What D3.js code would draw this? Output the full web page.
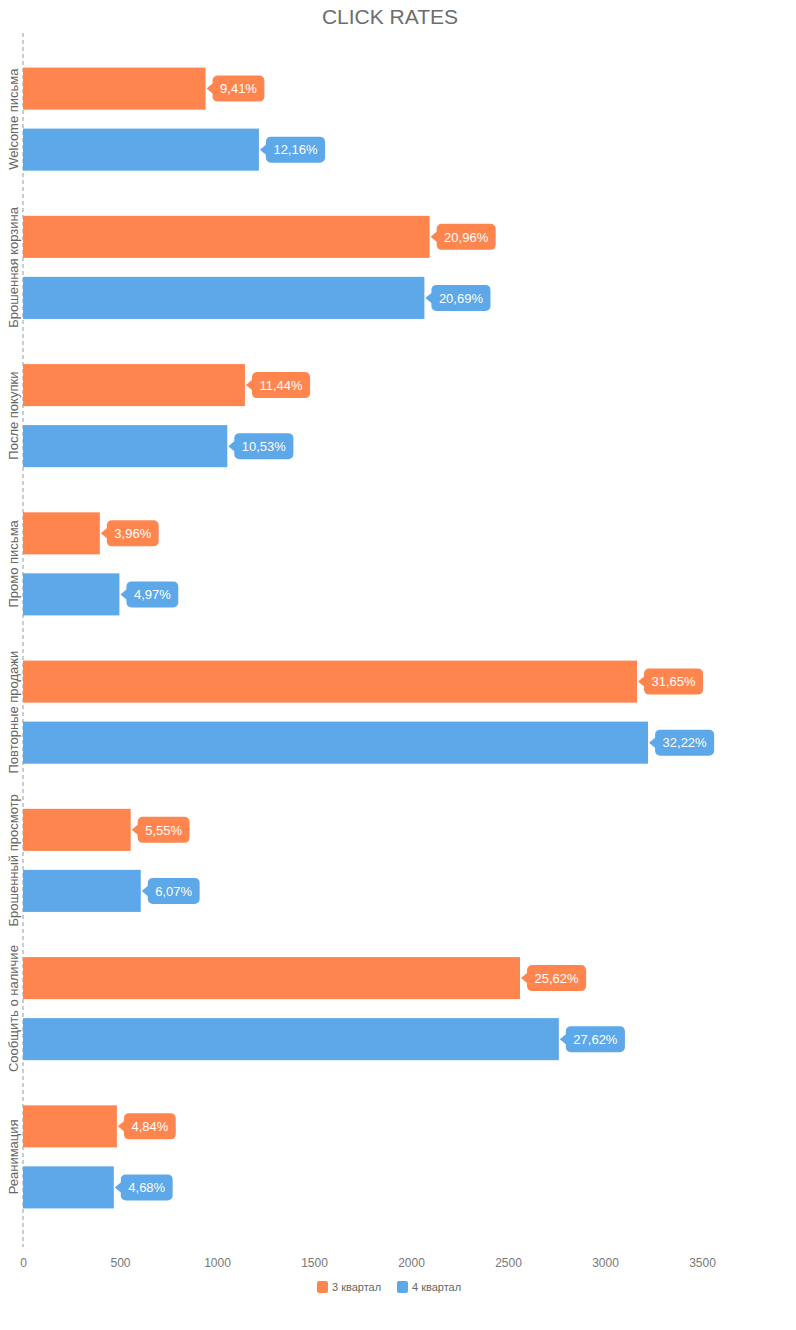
<!DOCTYPE html>
<html>
<head>
<meta charset="utf-8">
<script src="https://cdn.jsdelivr.net/npm/d3@7"></script>
<style>
  html, body { margin: 0; padding: 0; background: #fff; }
  svg { display: block; font-family: "Liberation Sans", Arial, Helvetica, sans-serif; }
</style>
</head>
<body>
<svg id="chart" width="796" height="1330"></svg>
<script>
// Email campaign click rates by quarter
const categories = [
  "Welcome письма",
  "Брошенная корзина",
  "После покупки",
  "Промо письма",
  "Повторные продажи",
  "Брошенный просмотр",
  "Сообщить о наличие",
  "Реанимация"
];
const seriesNames = ["3 квартал", "4 квартал"];
const q3Rates = [9.41, 20.96, 11.44, 3.96, 31.65, 5.55, 25.62, 4.84];
const q4Rates = [12.16, 20.69, 10.53, 4.97, 32.22, 6.07, 27.62, 4.68];
const xTicks = [0, 500, 1000, 1500, 2000, 2500, 3000, 3500];
const colors = ["#FF854F", "#5DA8E9"];

const series = [q3Rates, q4Rates];
const rows = categories.map((c, i) => ({
  category: c,
  values: series.map((s, k) => ({ key: seriesNames[k], k, rate: s[i] }))
}));

const svg = d3.select("#chart");

// Axis values are the rate expressed in basis points (rate * 100)
const x = d3.scaleLinear().domain([0, 3500]).range([23, 702]);
const y = d3.scaleBand().domain(categories).range([45, 1231]);
const inner = d3.scaleBand().domain(seriesNames).range([0, y.bandwidth()]).paddingInner(0.311).paddingOuter(0.37);

// Title
svg.append("text")
  .attr("x", 390).attr("y", 24)
  .attr("text-anchor", "middle")
  .attr("font-size", 21)
  .attr("fill", "#6d6d6d")
  .text("CLICK RATES");

// Dashed category axis line
svg.append("line")
  .attr("x1", x(0)).attr("x2", x(0))
  .attr("y1", 33).attr("y2", 1247)
  .attr("stroke", "#999").attr("stroke-width", 1)
  .attr("stroke-dasharray", "4,3");

// Category labels (rotated)
svg.append("g").selectAll("text")
  .data(categories)
  .join("text")
  .attr("transform", d => `translate(18,${y(d) + y.bandwidth() / 2}) rotate(-90)`)
  .attr("text-anchor", "middle")
  .attr("font-size", 13)
  .attr("fill", "#666")
  .text(d => d);

// Value axis tick labels
const xAxis = d3.axisBottom(x).tickValues(xTicks).tickSize(0).tickPadding(0).tickFormat(d3.format("d"));
const gx = svg.append("g").attr("transform", "translate(0,1258)").call(xAxis);
gx.select(".domain").remove();
gx.selectAll("text")
  .attr("font-size", 12)
  .attr("fill", "#777")
  .attr("font-family", "Liberation Sans, Arial, sans-serif");

// Bars
const groups = svg.append("g").selectAll("g")
  .data(rows)
  .join("g")
  .attr("transform", d => `translate(0,${y(d.category)})`);

groups.selectAll("rect")
  .data(d => d.values)
  .join("rect")
  .attr("x", x(0))
  .attr("y", d => inner(d.key))
  .attr("width", d => x(d.rate * 100) - x(0))
  .attr("height", inner.bandwidth())
  .attr("fill", d => colors[d.k]);

// Value callouts with pointer
const fmt = v => d3.format(".2f")(v).replace(".", ",") + "%";
const callouts = groups.selectAll("g.callout")
  .data(d => d.values)
  .join("g")
  .attr("class", "callout")
  .attr("transform", d => `translate(${x(d.rate * 100) + 1},${inner(d.key) + inner.bandwidth() / 2})`);

callouts.each(function (d) {
  const g = d3.select(this);
  const path = g.append("path").attr("fill", colors[d.k]);
  const t = g.append("text")
    .attr("y", 0)
    .attr("dy", "0.36em")
    .attr("font-size", 13)
    .attr("fill", "#fff")
    .text(fmt(d.rate));
  const w = t.node().getComputedTextLength() + 15;
  const h = 26, r = 5, px = 6, ph = 5;
  const x0 = px, x1 = px + w, y0 = -h / 2, y1 = h / 2;
  const p = d3.path();
  p.moveTo(x0 + r, y0);
  p.lineTo(x1 - r, y0);
  p.arcTo(x1, y0, x1, y0 + r, r);
  p.lineTo(x1, y1 - r);
  p.arcTo(x1, y1, x1 - r, y1, r);
  p.lineTo(x0 + r, y1);
  p.arcTo(x0, y1, x0, y1 - r, r);
  p.lineTo(x0, ph);
  p.lineTo(0, 0);
  p.lineTo(x0, -ph);
  p.lineTo(x0, y0 + r);
  p.arcTo(x0, y0, x0 + r, y0, r);
  p.closePath();
  path.attr("d", p.toString());
  t.attr("x", x0 + 7.5);
});

// Legend
const legend = svg.append("g").attr("transform", "translate(317,1287)");
const items = legend.selectAll("g")
  .data(seriesNames)
  .join("g")
  .attr("transform", (d, i) => `translate(${i * 80},0)`);
items.append("rect")
  .attr("x", 0).attr("y", -6)
  .attr("width", 11).attr("height", 12)
  .attr("rx", 2)
  .attr("fill", (d, i) => colors[i]);
items.append("text")
  .attr("x", 15).attr("y", 0)
  .attr("dy", "0.35em")
  .attr("font-size", 11)
  .attr("fill", "#666")
  .text(d => d);
</script>
</body>
</html>
